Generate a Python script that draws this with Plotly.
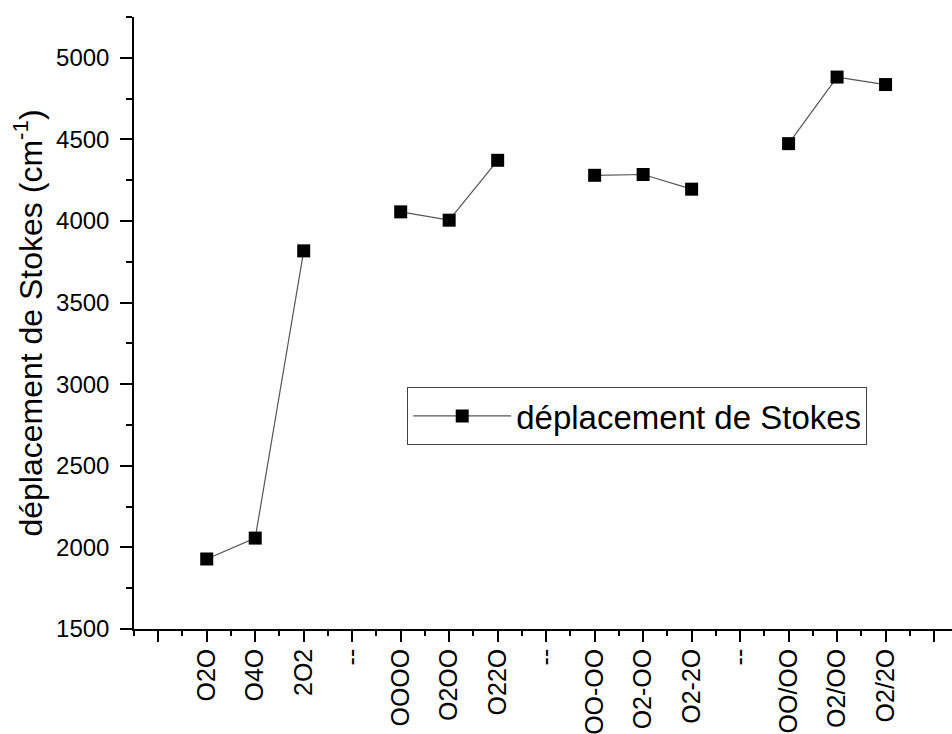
import plotly.graph_objects as go

# Data
tick_labels = ["", "O2O", "O4O", "2O2", "--", "OOOO", "O2OO", "O22O", "--",
               "OO-OO", "O2-OO", "O2-2O", "--", "OO/OO", "O2/OO", "O2/2O", ""]
stokes_shift = [None, 1929, 2057, 3817, None, 4056, 4005, 4372, None,
                4280, 4285, 4195, None, 4474, 4882, 4836, None]
series_name = "déplacement de Stokes"

x_pos = list(range(len(tick_labels)))

fig = go.Figure()
fig.add_trace(go.Scatter(
    x=x_pos, y=stokes_shift, mode="lines+markers", name=series_name,
    connectgaps=False,
    line=dict(color="#555555", width=1.2),
    marker=dict(symbol="square", size=13, color="black"),
))

font_family = "Liberation Sans, Arial, sans-serif"

fig.update_layout(
    width=952, height=734,
    margin=dict(l=134, r=0, t=17, b=105),
    paper_bgcolor="white", plot_bgcolor="white",
    font=dict(family=font_family, color="black"),
    showlegend=True,
    legend=dict(
        x=0.334, y=0.348, xanchor="left", yanchor="middle",
        bgcolor="white", bordercolor="#444444", borderwidth=1,
        font=dict(size=33, family=font_family, color="black"),
        itemwidth=98,
    ),
    xaxis=dict(
        range=[-0.5, 16.37], showgrid=False, zeroline=False, automargin=False,
        showline=True, linecolor="black", linewidth=1.5,
        tickmode="array", tickvals=x_pos, ticktext=tick_labels,
        ticks="outside", ticklen=11, tickwidth=1.5, tickcolor="black",
        tickangle=-90, tickfont=dict(size=25, family=font_family, color="black"),
        ticklabelstandoff=-3,
        minor=dict(tickmode="array", tickvals=[i + 0.5 for i in range(-1, 17)],
                   ticks="outside", ticklen=5, tickwidth=1.5, tickcolor="black"),
    ),
    yaxis=dict(
        range=[1500, 5250], showgrid=False, zeroline=False, automargin=False,
        showline=True, linecolor="black", linewidth=1.5,
        tickmode="array", tickvals=[1500, 2000, 2500, 3000, 3500, 4000, 4500, 5000],
        ticks="outside", ticklen=12, tickwidth=1.5, tickcolor="black",
        tickfont=dict(size=24, family=font_family, color="black"),
        ticklabelstandoff=6,
        minor=dict(tickmode="linear", tick0=1750, dtick=500,
                   ticks="outside", ticklen=6, tickwidth=1.5, tickcolor="black"),
        title=dict(text="déplacement de Stokes (cm<sup>-1</sup>)",
                   font=dict(size=32, family=font_family, color="black"),
                   standoff=4),
    ),
)

fig.write_html(
    "out.html",
    config={"displayModeBar": False},
    post_script="document.body.style.margin='0';document.body.style.overflow='hidden';",
)
